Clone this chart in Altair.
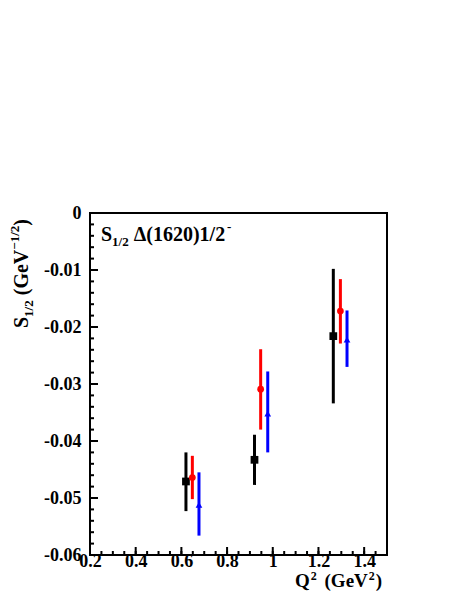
import altair as alt
import pandas as pd

# ---- data ----
q2_black = [0.620, 0.920, 1.265]
s_black = [-0.0471, -0.0433, -0.0216]
lo_black = [-0.0523, -0.0477, -0.0334]
hi_black = [-0.0420, -0.0389, -0.0098]

q2_red = [0.648, 0.947, 1.296]
s_red = [-0.0464, -0.0309, -0.0172]
lo_red = [-0.0502, -0.0380, -0.0229]
hi_red = [-0.0426, -0.0239, -0.0116]

q2_blue = [0.677, 0.978, 1.325]
s_blue = [-0.0512, -0.0352, -0.0222]
lo_blue = [-0.0566, -0.0420, -0.0270]
hi_blue = [-0.0455, -0.0278, -0.0171]

x_major = [0.2, 0.4, 0.6, 0.8, 1.0, 1.2, 1.4]
x_minor = [round(0.2 + 0.05 * i, 3) for i in range(27)]
y_major = [-0.06, -0.05, -0.04, -0.03, -0.02, -0.01, 0.0]
y_minor = [round(-0.06 + 0.002 * i, 4) for i in range(31)]

W, H = 297, 342
FONT = "Liberation Serif"

def frame(x, y, lo, hi):
    return pd.DataFrame({"q2": x, "s": y, "lo": lo, "hi": hi})

xs = alt.Scale(domain=[0.2, 1.5], nice=False, zero=False)
ys = alt.Scale(domain=[-0.06, 0.0], nice=False, zero=False)

base_axes = alt.Chart(pd.DataFrame({"q2": [0.2], "s": [0.0]})).mark_point(opacity=0).encode(
    x=alt.X("q2:Q", scale=xs, axis=alt.Axis(values=x_major, ticks=False, domain=False, grid=False,
            labelExpr="datum.value == 1 ? '1' : format(datum.value, '.1f')",
            labelFont=FONT, labelFontWeight="bold", labelFontSize=18, labelColor="black",
            labelPadding=-3, title=None, labelFlush=False, labelOverlap=False)),
    y=alt.Y("s:Q", scale=ys, axis=alt.Axis(values=y_major, ticks=False, domain=False, grid=False,
            labelExpr="datum.value == 0 ? '0' : '-0.0' + toString(round(-datum.value * 100))",
            labelFont=FONT, labelFontWeight="bold", labelFontSize=18, labelColor="black",
            labelPadding=9, title=None, labelFlush=False, labelOverlap=False)),
)

def xticks(vals, length):
    return alt.Chart(pd.DataFrame({"q2": vals})).mark_rule(color="black", strokeWidth=2).encode(
        x=alt.X("q2:Q", scale=xs), y=alt.value(H), y2=alt.value(H - length))

def yticks(vals, length):
    return alt.Chart(pd.DataFrame({"s": vals})).mark_rule(color="black", strokeWidth=2).encode(
        y=alt.Y("s:Q", scale=ys), x=alt.value(0), x2=alt.value(length))

def errbars(df, color):
    return alt.Chart(df).mark_rule(color=color, strokeWidth=3).encode(
        x=alt.X("q2:Q", scale=xs), y=alt.Y("lo:Q", scale=ys), y2="hi:Q")

def points(df, color, shape, size):
    return alt.Chart(df).mark_point(color=color, fill=color, filled=True, shape=shape, size=size, opacity=1).encode(
        x=alt.X("q2:Q", scale=xs), y=alt.Y("s:Q", scale=ys))

# Times-bold advance widths (per em), used only to lay out rich-text pieces
WID = {" ": 0.25, "(": 0.333, ")": 0.333, "-": 0.333, ".": 0.25, "/": 0.278, "S": 0.556,
       "Q": 0.778, "G": 0.778, "e": 0.444, "V": 0.722, "Δ": 0.667, "−": 0.57}

def text_run(x0, y0, pieces, angle=0):
    layers = []
    pos = 0.0
    for txt, size, dy, gap in pieces:
        pos += gap
        lead = len(txt) - len(txt.lstrip(" "))
        pos += lead * WID[" "] * size
        body = txt.lstrip(" ")
        if angle == 0:
            px, py = x0 + pos, y0 + dy
        else:
            px, py = x0 + dy, y0 - pos
        layers.append(alt.Chart(pd.DataFrame({"t": [body]})).mark_text(
            text=body, font=FONT, fontWeight="bold", fontSize=size, align="left", baseline="alphabetic",
            angle=angle, color="black").encode(x=alt.value(px), y=alt.value(py)))
        pos += sum(WID.get(c, 0.5) for c in body) * size
    return layers

black = frame(q2_black, s_black, lo_black, hi_black)
red = frame(q2_red, s_red, lo_red, hi_red)
blue = frame(q2_blue, s_blue, lo_blue, hi_blue)

layers = [base_axes,
          xticks(x_minor, 4), xticks(x_major, 8),
          yticks(y_minor, 4), yticks(y_major, 8),
          errbars(black, "black"), errbars(red, "red"), errbars(blue, "blue"),
          points(black, "black", "square", 60),
          points(red, "red", "circle", 45),
          points(blue, "blue", "triangle-up", 45)]

layers += text_run(11, 28, [("S", 20, 0, 0), ("1/2", 13, 5, 0), (" Δ(1620)1/2", 20, 0, 0), ("-", 13, -10, 1)])
layers += text_run(205, 374, [("Q", 19, 0, 0), ("2", 12, -7, 1), (" (GeV", 19, 0, 3), ("2", 12, -7, 1), (")", 19, 0, 1)])
layers += text_run(-62, 115, [("S", 20, 0, 0), ("1/2", 13, 5, 0), (" (GeV", 20, 0, 0), ("−1/2", 13, -9, 0), (")", 20, 0, 0)], angle=270)

chart = alt.layer(*layers).properties(
    width=W, height=H,
    autosize=alt.AutoSizeParams(type="none"),
    padding={"left": 82, "top": 205, "right": 60, "bottom": 36},
).configure_view(stroke="black", strokeWidth=2)

chart.save("out.html", embed_options={"renderer": "svg", "actions": False})
